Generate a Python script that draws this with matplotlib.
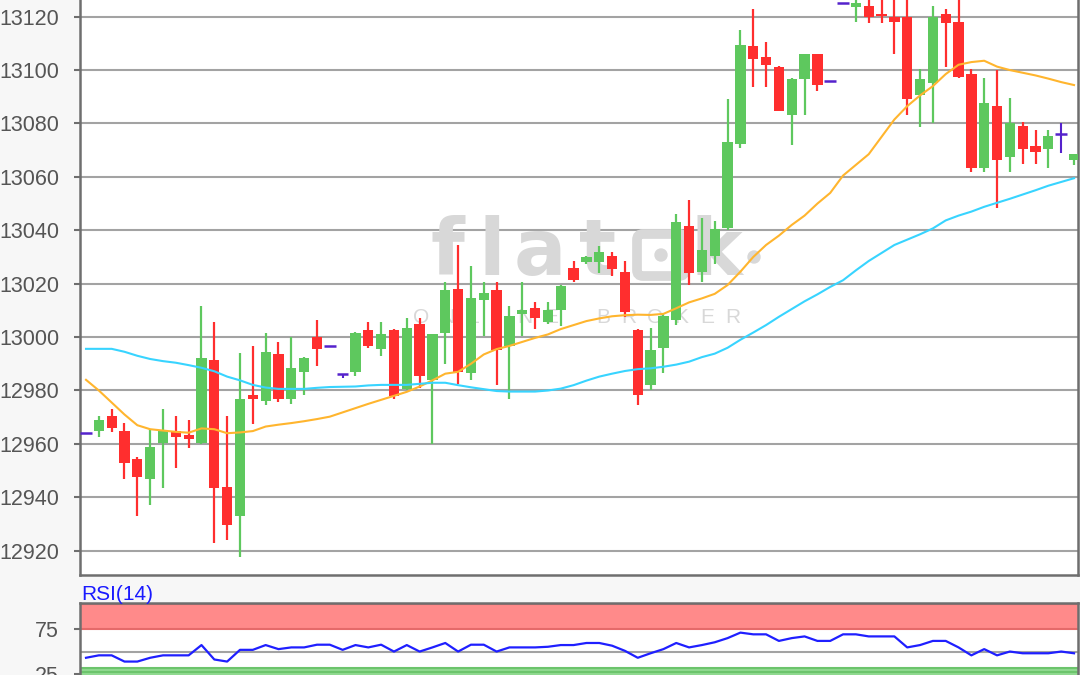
import matplotlib
matplotlib.use('Agg')
import matplotlib.pyplot as plt
from matplotlib.patches import FancyBboxPatch, Circle
import numpy as np

plt.rcParams['font.family'] = ['Liberation Sans', 'DejaVu Sans']

# ---------------- data ----------------
opens = [12964, 12965, 12970.5, 12965, 12954.5, 12947, 12960.5, 12965, 12963.5, 12960.5,
         12991.5, 12944, 12933, 12978.5, 12976, 12993.5, 12977, 12987, 13000, 12996.5,
         12986, 12987, 13002.5, 12995.5, 13002.5, 12980.5, 13005, 12984, 13001.5, 13018,
         12986.5, 13014, 13017.5, 12996.5, 13008.5, 13011, 13005.5, 13010, 13026, 13028,
         13028, 13030.5, 13024.5, 13002.5, 12982, 12996, 13006.5, 13041.5, 13024.5, 13030.5,
         13041, 13072.5, 13109, 13105, 13101, 13083, 13096.5, 13106, 13096, 13125,
         13123.5, 13124, 13121, 13120, 13120, 13090.5, 13095, 13121, 13118, 13098.5,
         13063.5, 13086.5, 13067.5, 13079, 13071.5, 13070.5, 13076, 13066.5]
highs = [12964, 12970.5, 12973, 12968, 12955, 12965.5, 12973, 12970.5, 12969, 13011.5,
         13005.5, 12970.5, 12994, 12996.5, 13001.5, 12998, 13000, 12992.5, 13006.5, 12996.5,
         12986, 13002, 13005.5, 13005.5, 13003, 13007, 13007, 13001, 13020.5, 13034.5,
         13026.5, 13020.5, 13020.5, 13011.5, 13020.5, 13013, 13013, 13019.5, 13028.5, 13030.5,
         13034, 13032, 13028.5, 13003, 13003.5, 13009, 13046, 13051.5, 13044.5, 13043.5,
         13089, 13115, 13123, 13110.5, 13101.5, 13097, 13106, 13106, 13096, 13125,
         13130, 13130, 13130, 13130, 13130, 13100.5, 13124, 13123, 13130, 13100.5,
         13097, 13100, 13089.5, 13080.5, 13077.5, 13077.5, 13080, 13068.5]
lows = [12964, 12962.5, 12964.5, 12947, 12933, 12937, 12943.5, 12951, 12958.5, 12960,
        12923, 12924, 12917.5, 12967.5, 12974.5, 12975.8, 12975, 12978.5, 12989, 12996.5,
        12984.5, 12985.5, 12996, 12993, 12977, 12980, 12981, 12960, 12990, 12982.5,
        12984, 13000.5, 12982, 12977, 13000.5, 13003, 13005, 13004, 13020.5, 13027.5,
        13024, 13023, 13007.5, 12974.5, 12980, 12986.5, 13004.5, 13019.5, 13020.5, 13027.5,
        13040, 13071, 13093.5, 13093.5, 13084.5, 13072, 13083, 13092, 13096, 13125,
        13118, 13117.5, 13117.5, 13106, 13083, 13078.5, 13080, 13101, 13097, 13062,
        13062, 13048.5, 13062, 13065, 13065, 13063.5, 13069, 13064.5]
closes = [12964, 12969, 12966, 12953, 12947.5, 12959, 12965, 12962.5, 12962, 12992,
          12943.5, 12929.5, 12977, 12977, 12994.5, 12977, 12988.5, 12992, 12995.5, 12996.5,
          12986, 13001.5, 12996.5, 13001, 12978, 13003.5, 12985.5, 13001, 13017.5, 12987,
          13014.5, 13016.5, 12995, 13008, 13010, 13007, 13010, 13019, 13021.5, 13030,
          13032, 13025.5, 13009.5, 12978.5, 12995, 13008, 13043, 13024, 13032.5, 13040.5,
          13073, 13109.5, 13104, 13102, 13084.5, 13096.5, 13106, 13094.5, 13096, 13125,
          13125, 13120, 13120.3, 13118, 13089, 13096.5, 13120, 13117.5, 13097.5, 13063.5,
          13087.5, 13066.5, 13080, 13070.5, 13069.5, 13075.5, 13076, 13068.5]

ma_fast = [12984, 12980, 12975.5, 12971, 12967, 12965.5, 12965, 12964.5, 12964.2, 12965.8,
           12965.5, 12964, 12964.3, 12964.8, 12966.5, 12967.2, 12967.8, 12968.5, 12969.3, 12970.2,
           12971.8, 12973.4, 12975, 12976.5, 12978, 12979.5, 12981.5, 12983.8, 12986.3, 12987,
           12990, 12993.5, 12995.5, 12996.7, 12998.2, 12999.7, 13001, 13003, 13004.5, 13006,
           13007, 13007.8, 13008.2, 13008.4, 13008.3, 13008.7, 13010.8, 13013, 13014.5, 13016.2,
           13019.5, 13024.5, 13030, 13034.5, 13038, 13042, 13045.5, 13050, 13054, 13060.5,
           13064.5, 13068.5, 13075, 13081.5, 13086.5, 13090.5, 13094, 13098.5, 13102, 13103,
           13103.5, 13101.3, 13100, 13099, 13098, 13096.8, 13095.5, 13094.4]
ma_slow = [12995.6, 12995.6, 12995.6, 12994.5, 12993, 12991.8, 12991, 12990.4, 12989.5, 12988.5,
           12987.2, 12985.2, 12983.8, 12982.1, 12981.1, 12980.6, 12980.6, 12980.6, 12981, 12981.3,
           12981.4, 12981.5, 12981.9, 12982.1, 12982.1, 12982.1, 12982.5, 12982.9, 12982.9, 12982,
           12981.2, 12980.5, 12979.8, 12979.6, 12979.6, 12979.6, 12980, 12980.7, 12982, 12983.7,
           12985.2, 12986.3, 12987.3, 12988, 12988.3, 12988.9, 12989.7, 12990.8, 12992.5, 12993.8,
           12996, 12999, 13001.7, 13004.5, 13007.6, 13010.5, 13013.4, 13016, 13018.8, 13021.3,
           13025, 13028.5, 13031.5, 13034.5, 13036.5, 13038.5, 13040.7, 13043.7, 13045.5, 13047,
           13048.8, 13050.3, 13051.8, 13053.4, 13055, 13056.7, 13058.1, 13059.5]
rsi = [43.3, 46, 46, 39.1, 39.1, 43.3, 46, 46, 46, 57.4,
       41.4, 39.1, 52.1, 52.1, 57.4, 52.9, 54.8, 54.8, 57.8, 57.8,
       52.1, 57.4, 54.8, 57.8, 50.2, 57.4, 50.2, 54.8, 59.7, 50.2,
       57.8, 57.8, 50.2, 54.8, 54.8, 54.8, 55.5, 57.4, 57.4, 59.7,
       59.7, 56.7, 51, 43.3, 48.3, 52.9, 59.7, 54.8, 57.4, 60.5,
       65.1, 71.2, 69.3, 69.3, 62, 65.1, 67, 62, 62, 69.3,
       69.3, 67, 67, 67, 54.8, 57.4, 62, 62, 54.8, 46,
       52.9, 46, 50.2, 48.3, 48.3, 48.3, 50.2, 48.3]

price_ticks = [12920, 12940, 12960, 12980, 13000, 13020, 13040, 13060, 13080, 13100, 13120]
price_labels = [str(t) for t in price_ticks]
rsi_ticks = [25, 75]
rsi_labels = ['25', '75']
rsi_label = 'RSI(14)'
watermark_letters = ['f', 'l', 'a', 't']
watermark_sub = 'ONLINE BROKER'

# ---------------- styling ----------------
W, H = 1080, 675
UP, DOWN, DOJI = '#5EC85E', '#FF2E2E', '#5522CC'
ORANGE, CYAN = '#FFB52E', '#38D4FF'
SPINE = '#6E6E6E'
GRID = '#A3A3A3'
TXT = '#555555'
BG = '#F7F7F7'


def fx(x):
    return x / W


def fy(y):
    return 1 - y / H


fig = plt.figure(figsize=(W / 100, H / 100), dpi=100, facecolor=BG)

# ---------------- main price panel ----------------
ax = fig.add_axes([fx(80), fy(575), fx(1078) - fx(80), fy(0) - fy(575)])
ax.set_facecolor('white')
n = len(opens)
x = np.arange(n)
o = np.array(opens); h = np.array(highs); l = np.array(lows); c = np.array(closes)

body_w = 0.8
for i in range(n):
    if o[i] == c[i]:
        col = DOJI
        if h[i] > l[i]:
            ax.vlines(x[i], l[i], h[i], color=col, lw=1.5, zorder=3)
        ax.hlines(o[i], x[i] - body_w / 2 - 0.05, x[i] + body_w / 2 + 0.05, color=col, lw=1.8, zorder=3)
        continue
    col = UP if c[i] > o[i] else DOWN
    ax.vlines(x[i], l[i], h[i], color=col, lw=1.6, zorder=3)
    bot = min(o[i], c[i])
    ht = max(abs(c[i] - o[i]), 0.6)
    ax.bar(x[i], ht, bottom=bot, width=body_w, color=col, lw=0, zorder=4)

ax.plot(x, ma_fast, color=ORANGE, lw=1.5, zorder=5)
ax.plot(x, ma_slow, color=CYAN, lw=1.5, zorder=5)

ax.set_xlim(-0.468, 77.31)
ax.set_ylim(12910.9, 13126.25)
ax.set_yticks(price_ticks)
ax.set_yticklabels(price_labels)
ax.set_xticks([])
ax.yaxis.grid(True, color=GRID, lw=1.5)
ax.set_axisbelow(True)
ax.tick_params(axis='y', length=4, width=1.5, color=SPINE, labelsize=15.5, labelcolor=TXT, pad=11)
for s in ['left', 'bottom', 'right']:
    ax.spines[s].set_color(SPINE)
    ax.spines[s].set_linewidth(1.8)
ax.spines['top'].set_visible(False)

# watermark
wm_col = '#D8D8D8'
letter_x = [447, 492, 540, 598]
for ch, lx in zip(watermark_letters, letter_x):
    ax.text(fx(lx), fy(275), ch, transform=fig.transFigure, fontsize=56, color=wm_col,
            ha='center', va='baseline', family='DejaVu Sans', weight='bold', zorder=1)
box = FancyBboxPatch(((637) / 100, (H - 276) / 100), 0.48, 0.42,
                     boxstyle='round,pad=0,rounding_size=0.06', transform=fig.dpi_scale_trans,
                     fill=False, ec=wm_col, lw=7, zorder=1)
ax.add_artist(box)
box.set_clip_on(False)
for (cx, cy, r) in [(661, 255, 6), (754, 257, 6)]:
    circ = Circle((cx / 100, (H - cy) / 100), r / 100, transform=fig.dpi_scale_trans,
                  color=wm_col, zorder=1)
    circ.set_clip_on(False)
    ax.add_artist(circ)
ax.text(fx(716), fy(275), 'k', transform=fig.transFigure, fontsize=56, color=wm_col,
        ha='center', va='baseline', family='DejaVu Sans', weight='bold', zorder=1)
for k, ch in enumerate(watermark_sub):
    if ch == ' ':
        continue
    ax.text(fx(421 + 26 * k), fy(323), ch, transform=fig.transFigure, fontsize=15,
            color=wm_col, ha='center', va='baseline', zorder=1)

# ---------------- RSI panel ----------------
rtop, rbot = 603.4, 720
rax = fig.add_axes([fx(80), fy(rbot), fx(1078) - fx(80), fy(rtop) - fy(rbot)])
rax.set_facecolor('white')
rax.set_xlim(-0.468, 77.31)
rax.set_ylim(-25.7, 103.6)
rax.axhspan(75, 103.6, color='#FF8A8A', lw=0, zorder=1)
rax.axhline(75.5, color='#E56A6A', lw=1.5, zorder=2)
rax.axhline(102.6, color='#E56A6A', lw=1.5, zorder=2)
rax.axhspan(-25.7, 32.5, color='#90D990', lw=0, zorder=1)
rax.axhline(32.5, color='#6CC46C', lw=1.5, zorder=2)
rax.axhline(27, color='#6CC46C', lw=1.5, zorder=2)
rax.axhline(50, color=GRID, lw=1.5, zorder=2)
rax.plot(x, rsi, color='#1F1FFF', lw=1.6, zorder=3)
rax.set_yticks(rsi_ticks)
rax.set_yticklabels(rsi_labels)
rax.set_xticks([])
rax.tick_params(axis='y', length=4, width=1.5, color=SPINE, labelsize=15.5, labelcolor=TXT, pad=11)
for s in ['left', 'top', 'right']:
    rax.spines[s].set_color(SPINE)
    rax.spines[s].set_linewidth(1.8)
rax.spines['bottom'].set_visible(False)

fig.text(fx(81), fy(600), rsi_label, color='#1A1AFF', fontsize=15, ha='left', va='baseline')

fig.savefig('out.png', dpi=100, facecolor=BG)
